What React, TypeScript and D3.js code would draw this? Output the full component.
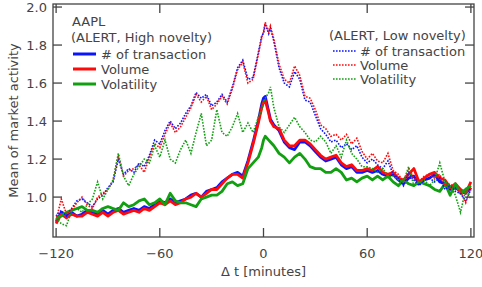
import React from "react";
import * as d3 from "d3";

// minutes relative to the alert
const minutes = [
  -120, -117, -114, -111, -108, -105, -102, -99, -96, -93, -90, -87, -84, -81,
  -78, -75, -72, -69, -66, -63, -60, -57, -54, -51, -48, -45, -42, -39, -36,
  -33, -30, -27, -24, -21, -18, -15, -12, -9, -6, -3, -1, 0, 1, 3, 4, 6, 9, 12,
  15, 18, 21, 24, 27, 30, 33, 36, 39, 42, 45, 48, 51, 54, 57, 60, 63, 66, 69,
  72, 75, 78, 81, 84, 87, 90, 93, 96, 99, 102, 105, 108, 111, 114, 117, 120,
];

// high novelty (solid)
const highTx = [
  0.87, 0.92, 0.9, 0.92, 0.9, 0.91, 0.93, 0.92, 0.91, 0.93, 0.91, 0.93, 0.94,
  0.92, 0.93, 0.94, 0.93, 0.95, 0.94, 0.96, 0.98, 0.97, 0.99, 0.97, 0.98, 0.99,
  1.01, 1.02, 1.0, 1.03, 1.04, 1.05, 1.08, 1.1, 1.12, 1.13, 1.11, 1.19, 1.29,
  1.4, 1.49, 1.52, 1.53, 1.45, 1.41, 1.38, 1.35, 1.29, 1.26, 1.25, 1.29, 1.29,
  1.27, 1.24, 1.21, 1.19, 1.2, 1.21, 1.17, 1.15, 1.16, 1.13, 1.13, 1.14, 1.13,
  1.14, 1.12, 1.11, 1.12, 1.09, 1.07, 1.1, 1.11, 1.07, 1.09, 1.1, 1.12, 1.08,
  1.07, 1.04, 1.05, 1.03, 1.02, 1.05,
];
const highVol = [
  0.86, 0.91, 0.89, 0.91, 0.9, 0.9, 0.92, 0.91, 0.9, 0.92, 0.9, 0.92, 0.93,
  0.91, 0.92, 0.93, 0.92, 0.94, 0.93, 0.95, 0.97, 0.96, 0.98, 0.96, 0.97, 0.99,
  1.0, 1.02, 1.0, 1.02, 1.04, 1.04, 1.07, 1.1, 1.12, 1.12, 1.1, 1.18, 1.28,
  1.39, 1.47, 1.5, 1.51, 1.44, 1.4, 1.37, 1.36, 1.3, 1.27, 1.27, 1.3, 1.3, 1.28,
  1.25, 1.22, 1.2, 1.21, 1.22, 1.18, 1.16, 1.17, 1.14, 1.14, 1.15, 1.14, 1.16,
  1.13, 1.12, 1.13, 1.1, 1.09, 1.12, 1.15, 1.08, 1.1, 1.12, 1.13, 1.1, 1.09,
  1.05, 1.07, 1.04, 1.02, 1.08,
];
const highVola = [
  0.89, 0.9, 0.92, 0.93, 0.94, 0.95, 0.93, 0.93, 0.92, 0.94, 0.95, 0.94, 0.93,
  0.97, 0.95, 0.96, 0.98, 0.99, 0.96, 0.97, 0.99, 0.96, 1.02, 0.98, 0.97, 0.97,
  0.96, 0.95, 0.99, 1.0, 1.01, 1.01, 1.03, 1.07, 1.08, 1.06, 1.07, 1.15, 1.18,
  1.21, 1.26, 1.3, 1.32, 1.3, 1.29, 1.27, 1.23, 1.21, 1.18, 1.21, 1.23, 1.2,
  1.16, 1.15, 1.15, 1.13, 1.13, 1.15, 1.13, 1.09, 1.1, 1.08, 1.1, 1.11, 1.09,
  1.11, 1.09, 1.11, 1.08, 1.06, 1.09, 1.07, 1.06, 1.08, 1.07, 1.06, 1.04, 1.03,
  1.07, 1.01, 1.07, 1.02, 1.04, 1.06,
];

// low novelty (dotted)
const lowTx = [
  0.9, 0.93, 0.9, 0.94, 0.98, 0.99, 0.97, 0.95, 0.99, 1.01, 1.05, 1.08, 1.2,
  1.12, 1.15, 1.13, 1.18, 1.16, 1.22, 1.3, 1.28, 1.35, 1.4, 1.36, 1.39, 1.44,
  1.48, 1.55, 1.52, 1.54, 1.48, 1.5, 1.54, 1.5, 1.58, 1.68, 1.72, 1.62, 1.63,
  1.76, 1.85, 1.86, 1.91, 1.86, 1.89, 1.82, 1.68, 1.6, 1.58, 1.66, 1.62, 1.51,
  1.5, 1.43, 1.36, 1.33, 1.29, 1.3, 1.26, 1.28, 1.25, 1.27, 1.21, 1.18, 1.2,
  1.17, 1.15, 1.19, 1.12, 1.1, 1.06, 1.13, 1.09, 1.06, 1.09, 1.1, 1.08, 1.1,
  1.04, 1.06, 1.03, 1.02, 0.98, 1.04,
];
const lowVol = [
  0.88, 0.99, 0.91, 0.93, 0.97, 1.0, 0.96, 0.94, 1.0, 1.02, 1.04, 1.09, 1.22,
  1.11, 1.14, 1.15, 1.17, 1.13, 1.21, 1.28, 1.26, 1.33, 1.39, 1.34, 1.37, 1.42,
  1.47, 1.54, 1.5, 1.53, 1.46, 1.49, 1.53, 1.49, 1.57, 1.67, 1.71, 1.6, 1.62,
  1.75, 1.84, 1.87, 1.92, 1.87, 1.9, 1.83, 1.7, 1.62, 1.6, 1.69, 1.64, 1.53,
  1.52, 1.46, 1.38, 1.36, 1.32, 1.33, 1.3, 1.33, 1.28, 1.31, 1.24, 1.2, 1.23,
  1.19, 1.18, 1.23, 1.14, 1.12, 1.08, 1.15, 1.1, 1.08, 1.11, 1.12, 1.1, 1.12,
  1.06, 1.07, 1.04, 1.03, 0.97, 1.05,
];
const lowVola = [
  0.89, 0.86, 0.85, 0.93, 0.94, 0.92, 0.96, 0.99, 1.08, 0.99, 1.04, 1.09, 1.23,
  1.11, 1.06, 1.12, 1.16, 1.2, 1.18, 1.27, 1.21, 1.3, 1.2, 1.18, 1.25, 1.3,
  1.23, 1.34, 1.44, 1.27, 1.3, 1.46, 1.34, 1.32, 1.37, 1.44, 1.34, 1.39, 1.34,
  1.42, 1.46, 1.5, 1.52, 1.55, 1.58, 1.47, 1.37, 1.34, 1.38, 1.42, 1.37, 1.34,
  1.3, 1.29, 1.32, 1.29, 1.23, 1.27, 1.21, 1.3, 1.23, 1.2, 1.16, 1.16, 1.15,
  1.13, 1.15, 1.11, 1.11, 1.09, 1.08, 1.16, 1.06, 1.08, 1.09, 1.06, 1.09, 1.18,
  1.08, 1.06, 1.01, 0.92, 1.04, 0.99,
];

const xTicks = [-120, -60, 0, 60, 120];
const yTicks = [1.0, 1.2, 1.4, 1.6, 1.8, 2.0];
const seriesNames = ["# of transaction", "Volume", "Volatility"];
const colors = ["#0a14ff", "#ff0a0a", "#12a012"];

const width = 482;
const height = 287;
const left = 53;
const right = 474;
const top = 4;
const bottom = 237;
const font = "'DejaVu Sans', sans-serif";
const ink = "#444";
const fs = 13;

export default function App() {
  const x = d3.scaleLinear().domain([-121.8, 121.8]).range([left, right]);
  const y = d3.scaleLinear().domain([0.79, 2.016]).range([bottom, top]);

  const line = (vals: number[]) =>
    d3
      .line<number>()
      .x((_, i) => x(minutes[i]))
      .y((d) => y(d))(vals) as string;

  const solid = [highTx, highVol, highVola];
  const dotted = [lowTx, lowVol, lowVola];
  const tick = 9;

  return (
    <svg
      width={width}
      height={height}
      style={{ position: "absolute", left: 0, top: 0, background: "#fff" }}
      fontFamily={font}
    >
      <defs>
        <clipPath id="plot">
          <rect x={left} y={top} width={right - left} height={bottom - top} />
        </clipPath>
      </defs>

      <g clipPath="url(#plot)">
        {solid.map((s, i) => (
          <path key={"s" + i} d={line(s)} fill="none" stroke={colors[i]} strokeWidth={2.8} strokeLinejoin="round" />
        ))}
        {dotted.map((s, i) => (
          <path
            key={"d" + i}
            d={line(s)}
            fill="none"
            stroke={colors[i]}
            strokeWidth={1.6}
            strokeDasharray="1.6,1.4"
          />
        ))}
      </g>

      {/* frame */}
      <rect x={left} y={top} width={right - left} height={bottom - top} fill="none" stroke={ink} strokeWidth={1.3} />

      {xTicks.map((t) => (
        <g key={"x" + t}>
          <line x1={x(t)} x2={x(t)} y1={bottom} y2={bottom - tick} stroke={ink} strokeWidth={1.3} />
          <line x1={x(t)} x2={x(t)} y1={top} y2={top + tick} stroke={ink} strokeWidth={1.3} />
          <text x={x(t)} y={258} textAnchor="middle" fontSize={fs} fill={ink}>
            {t < 0 ? "\u2212" + Math.abs(t) : t}
          </text>
        </g>
      ))}
      {yTicks.map((v) => (
        <g key={"y" + v}>
          <line x1={left} x2={left + tick} y1={y(v)} y2={y(v)} stroke={ink} strokeWidth={1.3} />
          <line x1={right} x2={right - tick} y1={y(v)} y2={y(v)} stroke={ink} strokeWidth={1.3} />
          <text x={47} y={y(v) + 4.5} textAnchor="end" fontSize={fs} fill={ink}>
            {v.toFixed(1)}
          </text>
        </g>
      ))}

      <text x={x(0)} y={276} textAnchor="middle" fontSize={fs} fill={ink}>
        {"\u0394 t [minutes]"}
      </text>
      <text
        transform={`translate(18,${(top + bottom) / 2}) rotate(-90)`}
        textAnchor="middle"
        fontSize={fs}
        fill={ink}
      >
        Mean of market activity
      </text>

      {/* legend, high novelty */}
      <text x={72} y={26} fontSize={fs} fill={ink}>AAPL</text>
      <text x={71} y={42} fontSize={fs} fill={ink}>(ALERT, High novelty)</text>
      {seriesNames.map((n, i) => (
        <g key={"lh" + i}>
          <line x1={73} x2={96} y1={54 + i * 15} y2={54 + i * 15} stroke={colors[i]} strokeWidth={3} />
          <text x={101} y={59 + i * 15} fontSize={fs} fill={ink}>{n}</text>
        </g>
      ))}

      {/* legend, low novelty */}
      <text x={329} y={40} fontSize={fs} fill={ink}>(ALERT, Low novelty)</text>
      {seriesNames.map((n, i) => (
        <g key={"ll" + i}>
          <line
            x1={333}
            x2={357}
            y1={51 + i * 14}
            y2={51 + i * 14}
            stroke={colors[i]}
            strokeWidth={1.6}
            strokeDasharray="1.6,1.4"
          />
          <text x={360} y={56 + i * 14} fontSize={fs} fill={ink}>{n}</text>
        </g>
      ))}
    </svg>
  );
}
